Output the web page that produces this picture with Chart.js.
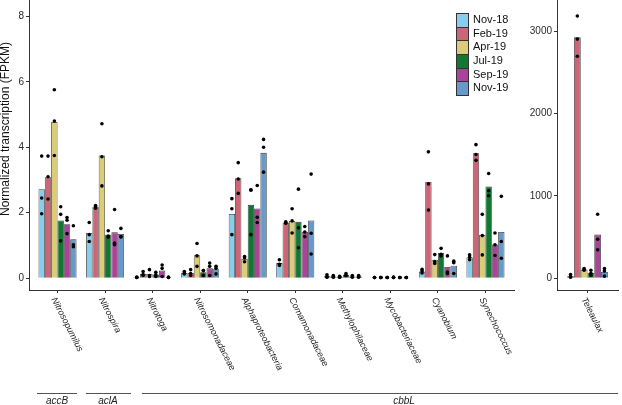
<!DOCTYPE html>
<html>
<head>
<meta charset="utf-8">
<script src="https://cdn.jsdelivr.net/npm/chart.js@4.4.1/dist/chart.umd.min.js"></script>
<style>
  body { margin: 0; background: #fff; }
  #wrap { position: relative; width: 622px; height: 405px; overflow: hidden; background: #fff;
          font-family: "Liberation Sans", Arial, sans-serif; }
  canvas { position: absolute; }
  #left { left: 0; top: -36px; }
  #right { left: 522px; top: -36px; }
  .legend { position: absolute; left: 456px; top: 13px; }
  .legend .row { position: relative; height: 13.7px; }
  .legend .key { position: absolute; left: 0; top: 0; width: 11px; height: 12.7px; border: 0.5px solid #333; }
  .legend .txt { position: absolute; left: 17px; top: 0; line-height: 13.7px; font-size: 11px; color: #111; white-space: nowrap; }
  .grp { position: absolute; border-top: 1px solid #555; }
  .glab { position: absolute; top: 395px; font-size: 10px; font-style: italic; color: #222; transform: translateX(-50%); }
</style>
</head>
<body>
<div id="wrap">
  <canvas id="left" width="518" height="441"></canvas>
  <canvas id="right" width="100" height="441"></canvas>
  <div class="legend" id="legend"></div>
  <div class="grp" style="left:37px; width:40px; top:393px"></div>
  <div class="grp" style="left:86px; width:45px; top:393px"></div>
  <div class="grp" style="left:142px; width:476px; top:393px"></div>
  <div class="glab" style="left:57px">accB</div>
  <div class="glab" style="left:108px">aclA</div>
  <div class="glab" style="left:404px">cbbL</div>
</div>
<script>
// sampling months and taxa
const months = ["Nov-18", "Feb-19", "Apr-19", "Jul-19", "Sep-19", "Nov-19"];
const colors = ["#88CCEE", "#CC6677", "#DDCC77", "#117733", "#AA4499", "#6699CC"];
const taxa = ["Nitrosopumilus", "Nitrospira", "Nitrotoga", "Nitrosomonadaceae", "Alphaproteobacteria",
  "Comamonadaceae", "Methylophilaceae", "Mycobacteriaceae", "Cyanobium", "Synechococcus"];
const leftTicks = [0, 2, 4, 6, 8];
const rightTicks = [0, 1000, 2000, 3000];

// mean FPKM per taxon (left panel)
const nov18 = [2.72, 1.38, 0.02, 0.16, 1.96, 0.46, 0.06, 0.02, 0.2, 0.63];
const feb19 = [3.08, 2.18, 0.13, 0.16, 3.05, 1.7, 0.05, 0.02, 2.94, 3.82];
const apr19 = [4.77, 3.75, 0.13, 0.7, 0.59, 1.75, 0.04, 0.02, 0.56, 1.32];
const jul19 = [1.76, 1.33, 0.11, 0.18, 2.24, 1.72, 0.1, 0.02, 0.77, 2.8];
const sep19 = [1.65, 1.4, 0.23, 0.3, 2.13, 1.42, 0.05, 0.02, 0.34, 1.03];
const nov19 = [1.19, 1.35, 0.02, 0.27, 3.83, 1.76, 0.05, 0.02, 0.38, 1.41];

// replicates (dots)
const nov18Reps = [[3.73,2.45,1.97],[1.7,1.33,1.12],[0.02,0.02,0.03],[0.2,0.13,0.15],[2.43,2.12,1.33],
  [0.56,0.42,0.39],[0.1,0.04,0.03],[0.02,0.02,0.02],[0.27,0.22,0.16],[0.71,0.64,0.56]];
const feb19Reps = [[3.73,2.42,3.1],[2.22,2.19,2.14],[0.2,0.08,0.11],[0.26,0.08,0.14],[3.53,2.59,3.03],
  [1.72,1.69,1.68],[0.08,0.04,0.03],[0.02,0.02,0.02],[3.86,2.08,2.88],[4.08,3.6,3.78]];
const apr19Reps = [[5.76,3.75,4.8],[4.72,2.82,3.71],[0.26,0.05,0.08],[1.06,0.36,0.68],[0.66,0.62,0.5],
  [2.12,1.38,1.75],[0.06,0.03,0.03],[0.02,0.02,0.02],[0.72,0.45,0.51],[1.95,0.71,1.3]];
const jul19Reps = [[2.18,1.95,1.14],[1.45,1.29,1.25],[0.18,0.05,0.1],[0.23,0.08,0.23],[2.69,1.33,2.7],
  [2.72,1.54,0.93],[0.14,0.08,0.08],[0.02,0.02,0.03],[0.91,0.73,0.68],[3.2,2.67,2.52]];
const sep19Reps = [[1.85,1.77,1.36],[2.1,1.07,1.02],[0.4,0.3,0.05],[0.46,0.36,0.08],[2.83,1.86,1.7],
  [1.58,1.27,1.41],[0.08,0.04,0.03],[0.02,0.02,0.02],[0.68,0.19,0.14],[1.38,1.02,0.69]];
const nov19Reps = [[1.6,1.02,0.96],[1.52,1.27,1.26],[0.03,0.02,0.02],[0.36,0.3,0.13],[4.24,4.0,3.24],
  [3.18,1.37,0.74],[0.08,0.04,0.03],[0.02,0.02,0.02],[0.52,0.47,0.14],[2.5,1.12,0.61]];

// Teleaulax (right panel), one value per month
const teleaulax = [24, 2928, 104, 64, 530, 76];
const teleaulaxReps = [[44,10,18],[3184,2696,2904],[116,98,100],[96,36,60],[776,472,344],[116,24,88]];

const means = [nov18, feb19, apr19, jul19, sep19, nov19];
const reps = [nov18Reps, feb19Reps, apr19Reps, jul19Reps, sep19Reps, nov19Reps];

const dodge = 0.8 / months.length;
const font = '"Liberation Sans", Arial, sans-serif';

// rotated italic taxon names under the x axis
const tiltLabels = {
  id: 'tiltLabels',
  afterDraw(chart, args, opts) {
    const { ctx } = chart;
    const x = chart.scales.x;
    ctx.save();
    ctx.font = 'italic 9px ' + font;
    ctx.fillStyle = '#1e1e1e';
    ctx.textBaseline = 'top';
    ctx.textAlign = 'left';
    opts.labels.forEach((t, i) => {
      ctx.save();
      ctx.translate(x.getPixelForValue(i + 1), x.top + 6);
      ctx.rotate(63 * Math.PI / 180);
      ctx.fillText(t, 0, 0);
      ctx.restore();
    });
    ctx.restore();
  }
};

function buildDatasets(meanArrs, repArrs) {
  const sets = [];
  months.forEach((m, j) => {
    sets.push({
      type: 'bar', label: m, order: 1,
      data: meanArrs[j].map((v, i) => ({ x: i + 1, y: v })),
      backgroundColor: colors[j], borderColor: 'rgba(30,30,30,0.9)', borderWidth: 0.8
    });
  });
  months.forEach((m, j) => {
    const pts = [];
    repArrs[j].forEach((r, i) => {
      r.forEach(v => pts.push({ x: i + 1 + (j - 2.5) * dodge, y: v }));
    });
    sets.push({
      type: 'scatter', label: m + ' reps', order: 0, data: pts,
      pointRadius: 1.8, pointBackgroundColor: '#000', pointBorderWidth: 0
    });
  });
  return sets;
}

function axisOpts(min, max, ticks, yWidth, title) {
  return {
    x: {
      type: 'linear', min: 0.4, max: ticks.xMax, offset: false,
      afterBuildTicks: s => { s.ticks = ticks.xVals.map(v => ({ value: v })); },
      afterFit: s => { s.height = 115; s.paddingLeft = 0; s.paddingRight = 0; },
      ticks: { callback: () => '', font: { size: 9 } },
      grid: { drawOnChartArea: false, offset: false, color: '#333', tickLength: 3 },
      border: { color: '#333', width: 1 }
    },
    y: {
      min: min, max: max,
      afterBuildTicks: s => { s.ticks = ticks.yVals.map(v => ({ value: v })); },
      afterFit: s => { s.width = yWidth; s.paddingTop = 0; s.paddingBottom = 0; },
      ticks: { color: '#2a2a2a', padding: 2, font: { family: font, size: 10 }, callback: v => String(v) },
      grid: { drawOnChartArea: false, color: '#333', tickLength: 3 },
      border: { color: '#333', width: 1 },
      title: title
    }
  };
}

Chart.defaults.font.family = font;

new Chart(document.getElementById('left'), {
  type: 'bar',
  data: { datasets: buildDatasets(means, reps) },
  options: {
    responsive: false, animation: false,
    layout: { padding: 0 },
    datasets: { bar: { categoryPercentage: 0.8, barPercentage: 1.0, grouped: true } },
    scales: axisOpts(-0.3623, 9.479, { xMax: 10.6, xVals: taxa.map((t, i) => i + 1), yVals: leftTicks }, 29,
      { display: true, text: 'Normalized transcription (FPKM)', color: '#111', padding: 0,
        font: { family: font, size: 12, lineHeight: 0.9 } }),
    plugins: { legend: { display: false }, tooltip: { enabled: false }, tiltLabels: { labels: taxa } }
  },
  plugins: [tiltLabels]
});

new Chart(document.getElementById('right'), {
  type: 'bar',
  data: { datasets: buildDatasets(teleaulax.map(v => [v]), teleaulaxReps.map(r => [r])) },
  options: {
    responsive: false, animation: false,
    layout: { padding: 0 },
    datasets: { bar: { categoryPercentage: 0.667, barPercentage: 1.0, grouped: true } },
    scales: axisOpts(-144, 3768, { xMax: 1.6, xVals: [1], yVals: rightTicks }, 35, { display: false }),
    plugins: { legend: { display: false }, tooltip: { enabled: false }, tiltLabels: { labels: ["Teleaulax"] } }
  },
  plugins: [tiltLabels]
});

// legend
const leg = document.getElementById('legend');
months.forEach((m, j) => {
  const row = document.createElement('div');
  row.className = 'row';
  row.innerHTML = '<div class="key" style="background:' + colors[j] + '"></div><div class="txt">' + m + '</div>';
  leg.appendChild(row);
});
</script>
</body>
</html>
